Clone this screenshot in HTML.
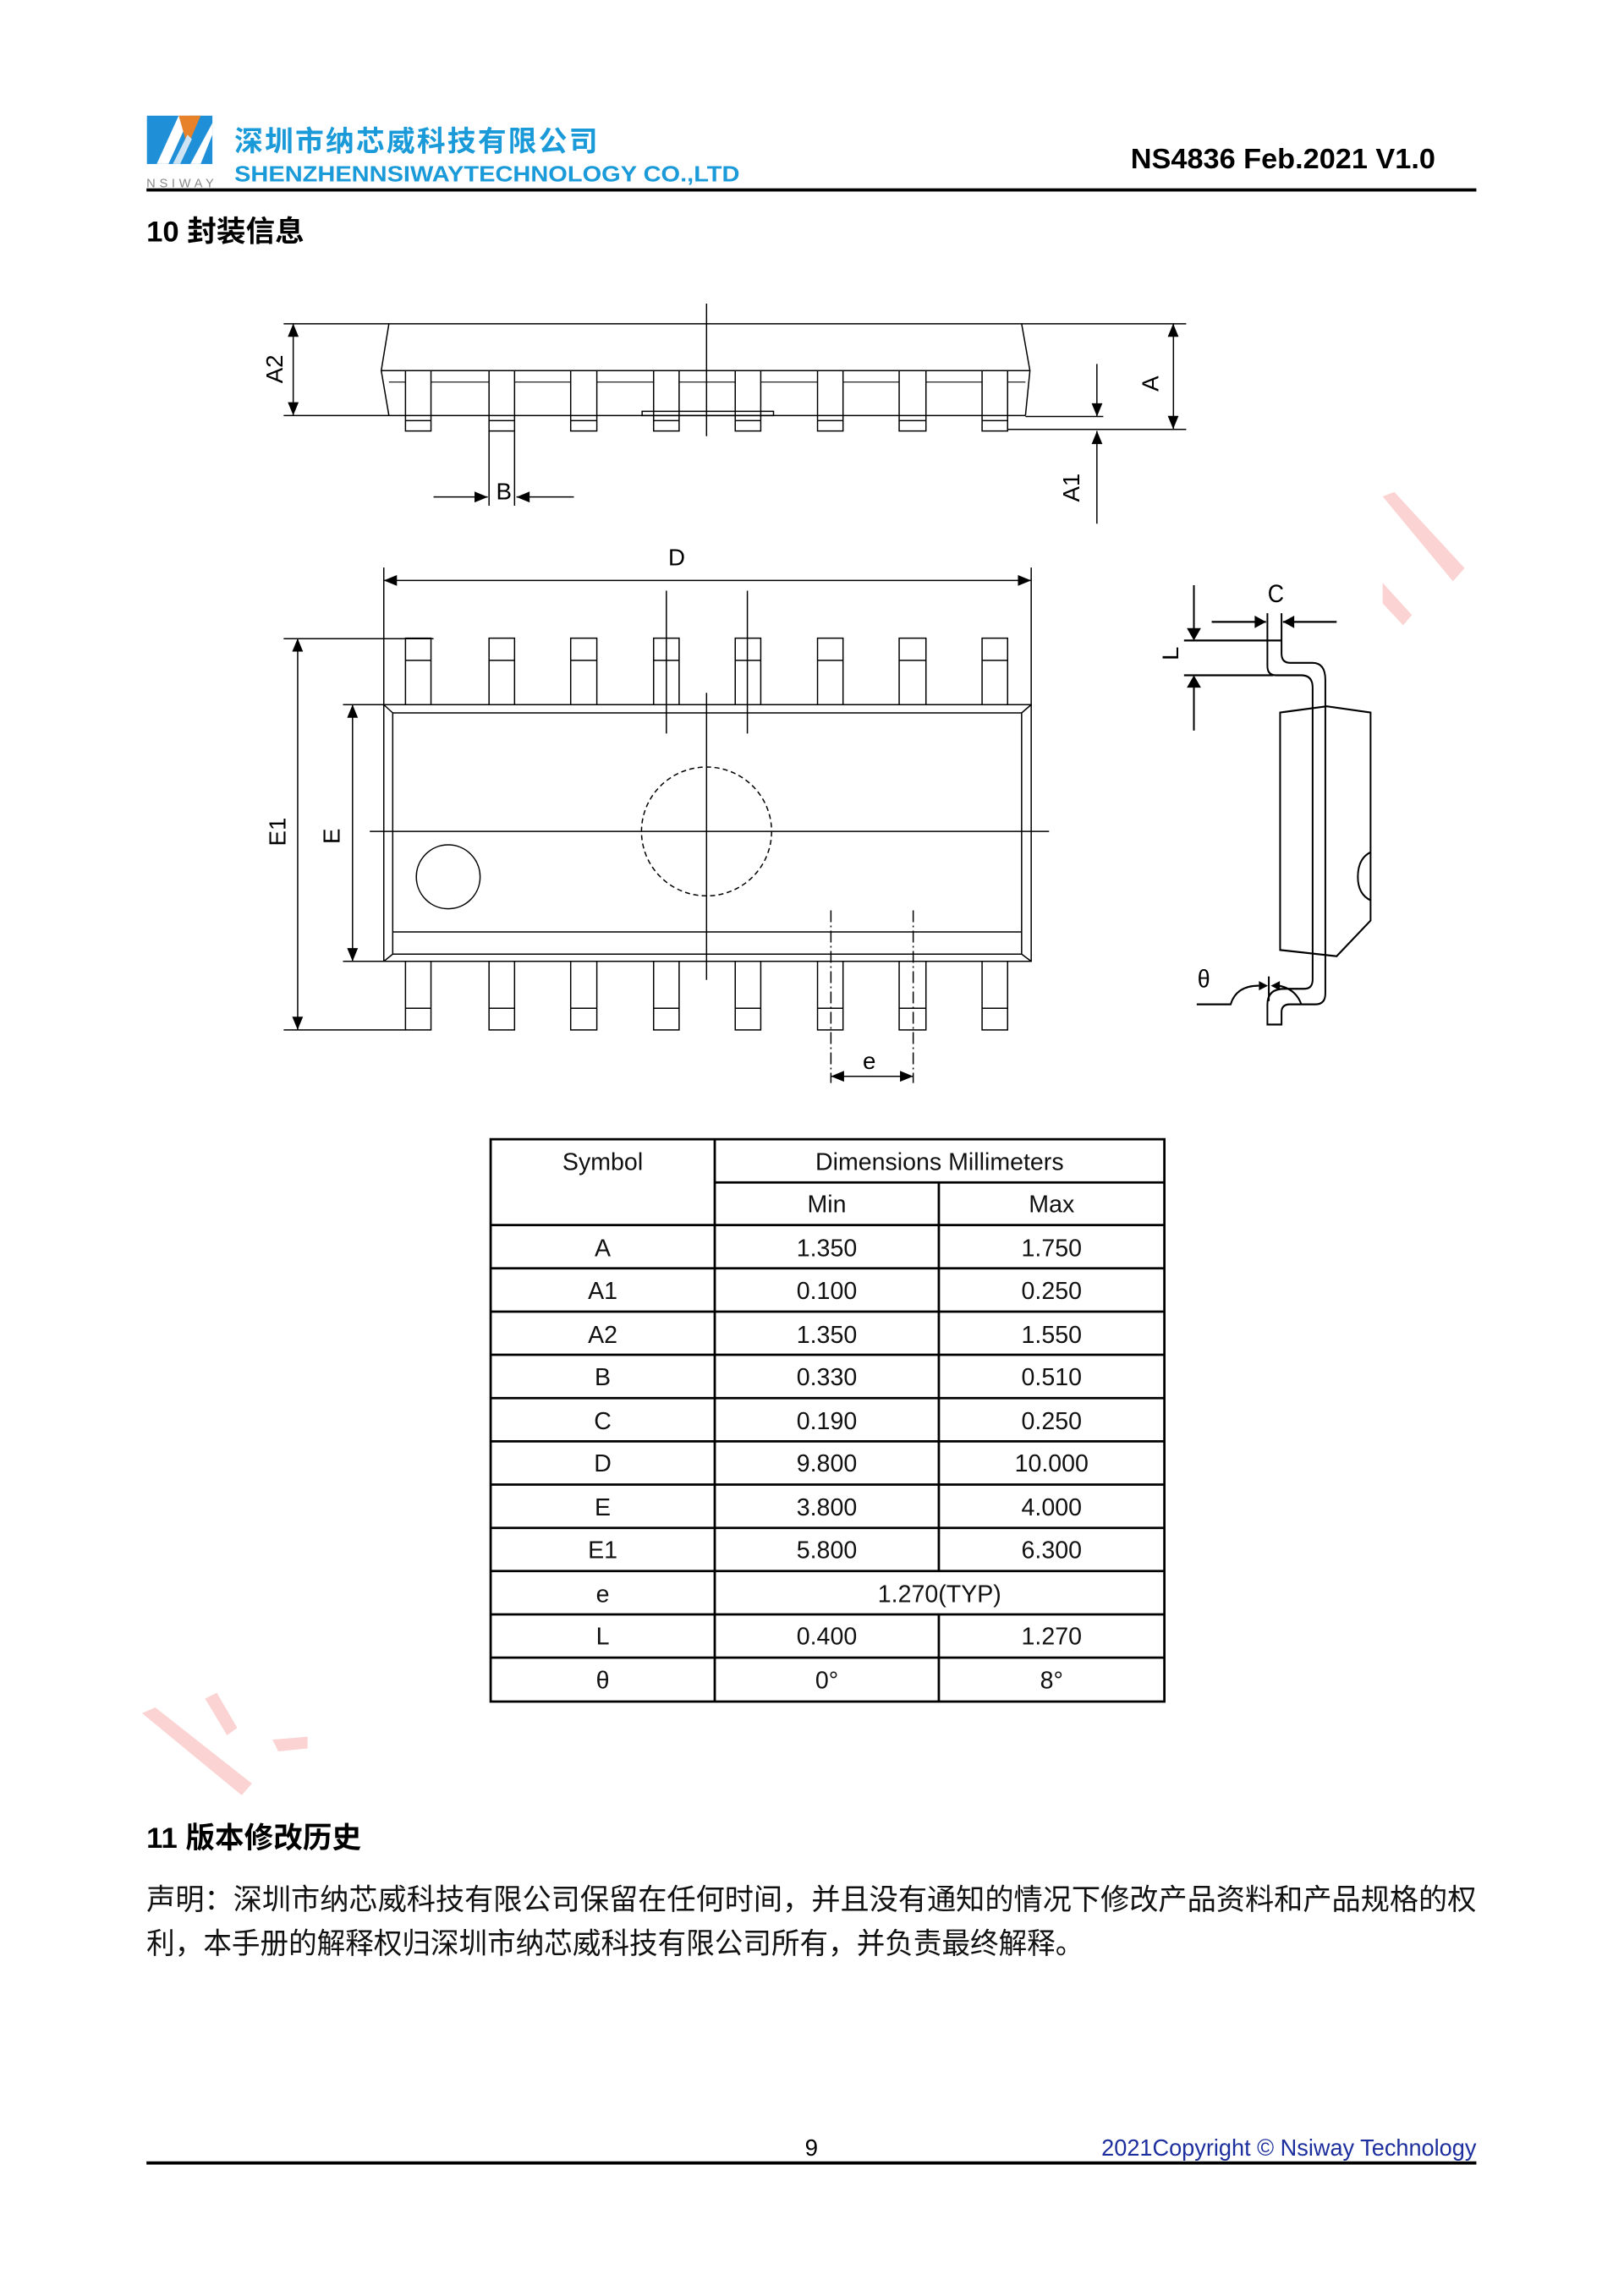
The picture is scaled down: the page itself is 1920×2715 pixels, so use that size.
<!DOCTYPE html>
<html><head><meta charset="utf-8"><style>
html,body{margin:0;padding:0;background:#fff}
svg{display:block}
text{font-family:"Liberation Sans","Noto Sans CJK SC",sans-serif}
</style></head><body>
<svg width="1920" height="2715" viewBox="0 0 1100 1555.5" xmlns="http://www.w3.org/2000/svg">
<rect width="1100" height="1555.5" fill="#fff"/>
<g transform="scale(0.99206)">
<!-- watermark -->
<g fill="#fbd3d3">
<polygon points="944,339 952,336 1000,388 992,397"/>
<polygon points="944,398 964,420 958,427 944,412"/>
<polygon points="97,1170 106,1166 172,1218 165,1226"/>
<polygon points="140,1160 148,1156 162,1180 155,1185"/>
<polygon points="186,1188 210,1186 210,1194 190,1196"/>
</g>
<!-- header logo -->
<rect x="100.3" y="79" width="44.7" height="33" fill="#1f8fd8"/>
<polygon points="107,112 115,112 130,79 122,79" fill="#fff"/>
<polygon points="122,79 137,79 128,100" fill="#e8822a"/>
<polygon points="130,112 137,112 145,92 145,84" fill="#fff"/>
<polygon points="118,112 123,112 131,95 128,92" fill="#cfe4f2"/>
<text x="100" y="128" font-family="Liberation Serif,serif" font-size="8.5" fill="#888" textLength="46">NSIWAY</text>
<text x="160" y="103" font-size="19.5" font-weight="bold" fill="#1a9ad8" textLength="248">深圳市纳芯威科技有限公司</text>
<text x="160" y="124" font-size="15" font-weight="bold" fill="#1a9ad8" textLength="345" lengthAdjust="spacingAndGlyphs">SHENZHENNSIWAYTECHNOLOGY CO.,LTD</text>
<text x="980" y="115" font-size="19" font-weight="bold" fill="#000" text-anchor="end" textLength="208" lengthAdjust="spacingAndGlyphs">NS4836 Feb.2021 V1.0</text>
<rect x="100" y="128.6" width="908" height="2.2" fill="#000"/>
<text x="100" y="165" font-size="20" font-weight="bold" fill="#000">10 封装信息</text>

<!-- main drawing (zoom coords mapped) -->
<g transform="translate(161,197.5) scale(0.4355,0.352)" fill="none" stroke="#000" stroke-width="1.5">
 <path d="M75 67 H1490 M240 67 L228 158 L240 245 M1232 67 L1245 158 L1238 245 M228 158 H1245 M240 245 H1238 M75 245 H240 M1210 272 H1490 M1238 247 H1360" vector-effect="non-scaling-stroke"/>
 <path d="M306 180 H397 M437 180 H525 M566 180 H655 M695 180 H783 M823 180 H912 M952 180 H1040 M1082 180 H1170 M240 180 H266 M1210 180 H1238" vector-effect="non-scaling-stroke" stroke="#444"/>
 <rect x="637" y="237" width="206" height="8" vector-effect="non-scaling-stroke"/>
 <rect x="266" y="158" width="40" height="117" vector-effect="non-scaling-stroke"/>
 <rect x="397" y="158" width="40" height="117" vector-effect="non-scaling-stroke"/>
 <rect x="525" y="158" width="41" height="117" vector-effect="non-scaling-stroke"/>
 <rect x="655" y="158" width="40" height="117" vector-effect="non-scaling-stroke"/>
 <rect x="783" y="158" width="40" height="117" vector-effect="non-scaling-stroke"/>
 <rect x="912" y="158" width="40" height="117" vector-effect="non-scaling-stroke"/>
 <rect x="1040" y="158" width="42" height="117" vector-effect="non-scaling-stroke"/>
 <rect x="1170" y="158" width="40" height="117" vector-effect="non-scaling-stroke"/>
 <path d="M266 255 H306 M397 255 H437 M525 255 H566 M655 255 H695 M783 255 H823 M912 255 H952 M1040 255 H1082 M1170 255 H1210" vector-effect="non-scaling-stroke"/>
 <path d="M738 28 V285 M397 275 V420 M437 275 V420 M90 67 V245 M1470 67 V272 M1350 145 V247 M1350 455 V275 M310 403 H395 M530 403 H440" vector-effect="non-scaling-stroke"/>
 <path d="M232 540 V806 M1247 540 V806 M232 565 H1247" vector-effect="non-scaling-stroke"/>
 <path d="M266 806 V677 H306 V806 M397 806 V677 H437 V806 M525 806 V677 H566 V806 M655 806 V677 H695 V806 M783 806 V677 H823 V806 M912 806 V677 H952 V806 M1040 806 V677 H1082 V806 M1170 806 V677 H1210 V806" vector-effect="non-scaling-stroke"/>
 <path d="M266 720 H306 M397 720 H437 M525 720 H566 M655 720 H695 M783 720 H823 M912 720 H952 M1040 720 H1082 M1170 720 H1210" vector-effect="non-scaling-stroke"/>
 <path d="M266 1304 V1437 H306 V1304 M397 1304 V1437 H437 V1304 M525 1304 V1437 H566 V1304 M655 1304 V1437 H695 V1304 M783 1304 V1437 H823 V1304 M912 1304 V1437 H952 V1304 M1040 1304 V1437 H1082 V1304 M1170 1304 V1437 H1210 V1304" vector-effect="non-scaling-stroke"/>
 <path d="M266 1395 H306 M397 1395 H437 M525 1395 H566 M655 1395 H695 M783 1395 H823 M912 1395 H952 M1040 1395 H1082 M1170 1395 H1210" vector-effect="non-scaling-stroke"/>
 <rect x="232" y="806" width="1015" height="498" vector-effect="non-scaling-stroke"/>
 <rect x="246" y="822" width="986" height="468" vector-effect="non-scaling-stroke"/>
 <path d="M232 806 L246 822 M1247 806 L1232 822 M232 1304 L246 1290 M1247 1304 L1232 1290 M246 1247 H1232" vector-effect="non-scaling-stroke"/>
 <path d="M75 678 H310 M75 1437 H266 M97 678 V1437 M168 806 H232 M168 1304 H232 M183 806 V1304" vector-effect="non-scaling-stroke"/>
 <path d="M210 1052 H1275 M738 783 V1340 M675 585 V862 M802 585 V862" vector-effect="non-scaling-stroke"/>
 <ellipse cx="738" cy="1052" rx="102" ry="125" stroke-dasharray="6 4" vector-effect="non-scaling-stroke"/>
 <ellipse cx="333" cy="1140" rx="50" ry="62" vector-effect="non-scaling-stroke"/>
 <path d="M933 1205 V1540 M1062 1205 V1540" stroke-dasharray="14 4 2 4" vector-effect="non-scaling-stroke"/>
 <path d="M933 1527 H1062" vector-effect="non-scaling-stroke"/>
</g>
<g fill="#000">
 <polygon points="200.2,221 196.5,230 203.9,230"/><polygon points="200.2,283.7 196.5,274.7 203.9,274.7"/>
 <polygon points="801,221 797.3,230 804.7,230"/><polygon points="801,293 797.3,284 804.7,284"/>
 <polygon points="749,284.4 745.3,275.4 752.7,275.4"/><polygon points="749,294.3 745.3,303.3 752.7,303.3"/>
 <polygon points="333,339.4 324,335.7 324,343.1"/><polygon points="352.6,339.4 361.6,335.7 361.6,343.1"/>
 <polygon points="262,396.4 271,392.7 271,400.1"/><polygon points="704,396.4 695,392.7 695,400.1"/>
 <polygon points="203.2,436 199.5,445 206.9,445"/><polygon points="203.2,703.3 199.5,694.3 206.9,694.3"/>
 <polygon points="240.7,481.2 237,490.2 244.4,490.2"/><polygon points="240.7,656.5 237,647.5 244.4,647.5"/>
 <polygon points="567.3,735 576.3,731.3 576.3,738.7"/><polygon points="623.5,735 614.5,731.3 614.5,738.7"/>
</g>
<g font-size="16" fill="#000">
 <text transform="translate(193,252) rotate(-90)" text-anchor="middle">A2</text>
 <text transform="translate(791,262) rotate(-90)" text-anchor="middle">A</text>
 <text transform="translate(737,333) rotate(-90)" text-anchor="middle">A1</text>
 <text x="344" y="341" text-anchor="middle">B</text>
 <text x="462" y="386" text-anchor="middle">D</text>
 <text transform="translate(195,568) rotate(-90)" text-anchor="middle">E1</text>
 <text transform="translate(232,571) rotate(-90)" text-anchor="middle">E</text>
 <text x="593.5" y="730" text-anchor="middle">e</text>
</g>
<!-- side profile -->
<g transform="translate(792,382.7) scale(0.193,0.212)" fill="none" stroke="#000" stroke-width="6">
 <path d="M183 198 H375 M625 198 H435 M380 170 V340 Q380 370 410 370 H500 Q540 370 540 410 V1350 Q540 1380 510 1380 H440 Q380 1380 380 1430 V1495 H430 V1455 Q430 1430 460 1430 H550 Q585 1430 585 1395 V385 Q585 330 540 330 H460 Q430 330 430 300 V170 M85 258 H430 M85 370 H400 M120 80 V250 M120 548 V380"/>
 <path d="M425 490 L590 470 L745 490 V1160 L625 1275 L425 1255 Z M745 940 Q700 960 700 1020 Q700 1075 745 1095"/>
 <path d="M130 1430 H250 Q270 1370 350 1370 M420 1370 Q480 1380 500 1430 M385 1340 V1420"/>
 <g fill="#000" stroke="none">
  <polygon points="375,198 335,178 335,218"/><polygon points="435,198 475,178 475,218"/>
  <polygon points="120,258 95,218 145,218"/><polygon points="120,370 95,410 145,410"/>
  <polygon points="382,1370 350,1355 350,1385"/><polygon points="392,1370 424,1355 424,1385"/>
 </g>
 <text x="410" y="135" font-size="80" fill="#000" stroke="none" text-anchor="middle">C</text>
 <text x="155" y="1375" font-size="80" fill="#000" stroke="none" text-anchor="middle">θ</text>
 <text transform="translate(65,300) rotate(-90)" font-size="80" fill="#000" stroke="none" text-anchor="middle">L</text>
</g>

<!-- table -->
<g stroke="#000" stroke-width="1.6" fill="none">
 <rect x="335" y="778" width="460" height="384"/>
 <path d="M488 778 V1162 M641 807.5 V1073.4 M641 1103 V1162"/>
 <path d="M488 807.5 H795 M335 836.6 H795 M335 866.1 H795 M335 895.7 H795 M335 925.2 H795 M335 954.8 H795 M335 984.3 H795 M335 1013.8 H795 M335 1043.4 H795 M335 1072.9 H795 M335 1102.5 H795 M335 1132 H795"/>
</g>
<g font-size="16.5" fill="#111" text-anchor="middle">
 <text x="411.5" y="799">Symbol</text><text x="641.5" y="799">Dimensions Millimeters</text>
 <text x="564.5" y="828">Min</text><text x="718" y="828">Max</text>
 <text x="411.5" y="858">A</text><text x="564.5" y="858">1.350</text><text x="718" y="858">1.750</text>
 <text x="411.5" y="887">A1</text><text x="564.5" y="887">0.100</text><text x="718" y="887">0.250</text>
 <text x="411.5" y="917">A2</text><text x="564.5" y="917">1.350</text><text x="718" y="917">1.550</text>
 <text x="411.5" y="946">B</text><text x="564.5" y="946">0.330</text><text x="718" y="946">0.510</text>
 <text x="411.5" y="976">C</text><text x="564.5" y="976">0.190</text><text x="718" y="976">0.250</text>
 <text x="411.5" y="1005">D</text><text x="564.5" y="1005">9.800</text><text x="718" y="1005">10.000</text>
 <text x="411.5" y="1035">E</text><text x="564.5" y="1035">3.800</text><text x="718" y="1035">4.000</text>
 <text x="411.5" y="1064">E1</text><text x="564.5" y="1064">5.800</text><text x="718" y="1064">6.300</text>
 <text x="411.5" y="1094">e</text><text x="641.5" y="1094">1.270(TYP)</text>
 <text x="411.5" y="1123">L</text><text x="564.5" y="1123">0.400</text><text x="718" y="1123">1.270</text>
 <text x="411.5" y="1153">θ</text><text x="564.5" y="1153">0°</text><text x="718" y="1153">8°</text>
</g>

<text x="100" y="1262" font-size="20" font-weight="bold" fill="#000">11 版本修改历史</text>
<text x="100" y="1304" font-size="20" fill="#111" textLength="908" lengthAdjust="spacingAndGlyphs">声明：深圳市纳芯威科技有限公司保留在任何时间，并且没有通知的情况下修改产品资料和产品规格的权</text>
<text x="100" y="1334" font-size="20" fill="#111" textLength="640" lengthAdjust="spacingAndGlyphs">利，本手册的解释权归深圳市纳芯威科技有限公司所有，并负责最终解释。</text>

<text x="554" y="1472" font-family="Liberation Serif,serif" font-size="16" fill="#000" text-anchor="middle">9</text>
<text x="1008" y="1472" font-family="Liberation Serif,serif" font-size="16" fill="#1d2f9e" text-anchor="end" textLength="256" lengthAdjust="spacingAndGlyphs">2021Copyright © Nsiway Technology</text>
<rect x="100" y="1476" width="908" height="2.2" fill="#000"/>
</g>
</svg>
</body></html>
